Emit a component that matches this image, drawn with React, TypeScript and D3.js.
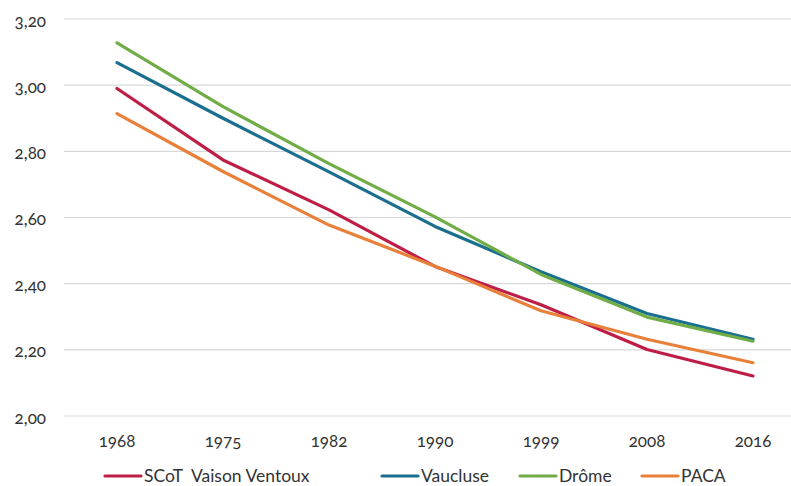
import React from "react";
import * as d3 from "d3";

const years = ["1968", "1975", "1982", "1990", "1999", "2008", "2016"];
const scot = [2.99, 2.774, 2.623, 2.452, 2.336, 2.201, 2.121];
const vaucluse = [3.068, 2.9, 2.738, 2.573, 2.436, 2.31, 2.232];
const drome = [3.128, 2.935, 2.763, 2.602, 2.428, 2.299, 2.226];
const paca = [2.914, 2.739, 2.577, 2.453, 2.318, 2.232, 2.161];
const yTicks = [2.0, 2.2, 2.4, 2.6, 2.8, 3.0, 3.2];

const series = [
  { name: "SCoT  Vaison Ventoux", values: scot, color: "#BE1E45" },
  { name: "Vaucluse", values: vaucluse, color: "#1A6E8E" },
  { name: "Drôme", values: drome, color: "#70AD47" },
  { name: "PACA", values: paca, color: "#E8803A" },
];

const W = 791;
const H = 486;
const margin = { left: 64, right: -15, top: 19, bottom: 70 };

export default function App() {
  const x = d3
    .scaleBand<string>()
    .domain(years)
    .range([margin.left, W - margin.right])
    .padding(0);
  const cx = (d: string) => (x(d) as number) + x.bandwidth() / 2;
  const y = d3.scaleLinear().domain([2, 3.2]).range([H - margin.bottom, margin.top]);
  const fmt = (v: number) => v.toFixed(2).replace(".", ",");
  const line = d3
    .line<number>()
    .x((_, i) => cx(years[i]))
    .y((v) => y(v));

  const legendX = [105, 382, 520, 642];
  const font = "Lato, 'Open Sans', sans-serif";
  const numStyle = { fontVariantNumeric: "oldstyle-nums" } as React.CSSProperties;

  return (
    <svg
      width={W}
      height={H}
      style={{ position: "absolute", left: 0, top: 0, background: "#fff" }}
      fontFamily={font}
    >
      {yTicks.map((t) => (
        <g key={t}>
          <line x1={margin.left} x2={W} y1={y(t)} y2={y(t)} stroke="#D9D9D9" strokeWidth={1.2} />
          <text
            x={46}
            y={y(t) + 1}
            textAnchor="end"
            dominantBaseline="central"
            fontSize={17}
            fill="#333"
            style={numStyle}
          >
            {fmt(t)}
          </text>
        </g>
      ))}
      {years.map((yr) => (
        <text
          key={yr}
          x={cx(yr)}
          y={440}
          textAnchor="middle"
          dominantBaseline="central"
          fontSize={17}
          fill="#333"
          style={numStyle}
        >
          {yr}
        </text>
      ))}
      {series.map((s) => (
        <path
          key={s.name}
          d={line(s.values) || ""}
          fill="none"
          stroke={s.color}
          strokeWidth={3.2}
          strokeLinejoin="round"
          strokeLinecap="round"
        />
      ))}
      {series.map((s, i) => (
        <g key={"lg" + s.name}>
          <line
            x1={legendX[i]}
            x2={legendX[i] + 36}
            y1={476}
            y2={476}
            stroke={s.color}
            strokeWidth={3.2}
            strokeLinecap="round"
          />
          <text
            x={legendX[i] + 39}
            y={475}
            dominantBaseline="central"
            fontSize={17.5}
            fill="#333"
            style={{ whiteSpace: "pre" }}
          >
            {s.name}
          </text>
        </g>
      ))}
    </svg>
  );
}
